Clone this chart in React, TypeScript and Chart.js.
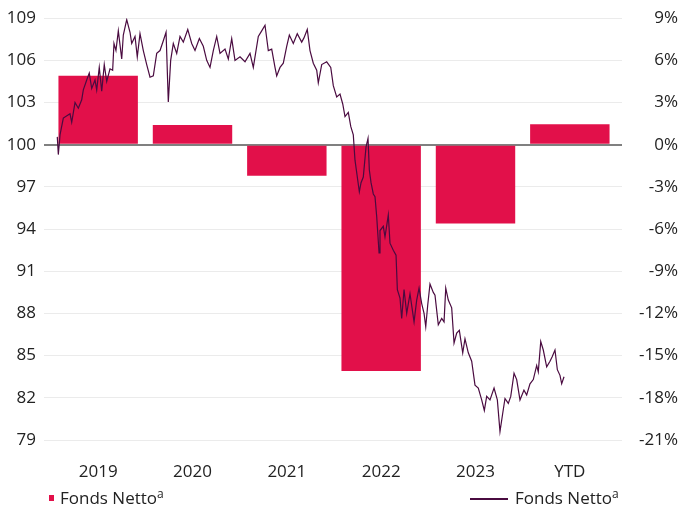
import React, { useEffect, useRef } from "react";
import { Chart, registerables } from "chart.js";

Chart.register(...registerables);

// ---- Data ----
const categories = ["2019", "2020", "2021", "2022", "2023", "YTD"];
// yearly net returns (%), right axis
const barValues = [4.9, 1.4, -2.2, -16.1, -5.6, 1.45];

// indexed fund value (left axis); time in years since start of 2019
const lineT = [
  0.003, 0.014, 0.032, 0.067, 0.138, 0.156, 0.191, 0.226, 0.262, 0.279, 0.315, 0.342, 0.368, 0.403, 0.421,
  0.448, 0.474, 0.501, 0.527, 0.562, 0.59, 0.604, 0.625, 0.65, 0.686, 0.703, 0.739, 0.774, 0.792, 0.827,
  0.851, 0.88, 0.915, 0.951, 0.986, 1.021, 1.057, 1.092, 1.127, 1.156, 1.18, 1.205, 1.233, 1.269, 1.304,
  1.339, 1.386, 1.428, 1.463, 1.509, 1.551, 1.587, 1.622, 1.657, 1.693, 1.728, 1.781, 1.816, 1.852, 1.887,
  1.94, 1.993, 2.046, 2.081, 2.134, 2.17, 2.205, 2.24, 2.276, 2.311, 2.329, 2.364, 2.399, 2.435, 2.463,
  2.505, 2.547, 2.594, 2.618, 2.653, 2.682, 2.717, 2.753, 2.77, 2.806, 2.859, 2.902, 2.929, 2.965, 3.0,
  3.029, 3.053, 3.088, 3.114, 3.141, 3.159, 3.205, 3.223, 3.247, 3.276, 3.297, 3.311, 3.329, 3.353, 3.371,
  3.389, 3.414, 3.424, 3.459, 3.477, 3.512, 3.53, 3.565, 3.594, 3.608, 3.636, 3.654, 3.679, 3.707, 3.742,
  3.785, 3.813, 3.838, 3.866, 3.891, 3.909, 3.93, 3.954, 3.989, 4.007, 4.042, 4.078, 4.103, 4.121, 4.148,
  4.184, 4.209, 4.237, 4.265, 4.301, 4.325, 4.36, 4.396, 4.431, 4.466, 4.502, 4.53, 4.555, 4.59, 4.633,
  4.668, 4.696, 4.725, 4.749, 4.784, 4.81, 4.845, 4.873, 4.908, 4.95, 4.979, 5.014, 5.049, 5.085, 5.102,
  5.128, 5.155, 5.191, 5.226, 5.248, 5.279, 5.304, 5.332, 5.35, 5.375,
];
const lineValues = [
  100.56, 99.3, 100.7, 101.9, 102.2, 101.6, 103.0, 102.6, 103.2, 103.9, 104.6, 105.1, 104.0, 104.6, 103.9,
  105.5, 103.8, 105.7, 104.5, 105.4, 105.3, 107.2, 106.7, 108.1, 106.1, 107.8, 108.9, 108.0, 107.2, 107.7,
  106.25, 107.9, 106.7, 105.7, 104.8, 104.9, 106.5, 106.7, 107.4, 108.0, 103.05, 106.0, 107.2, 106.5, 107.7,
  107.3, 108.2, 107.2, 106.7, 107.55, 107.0, 106.0, 105.5, 106.7, 107.7, 106.5, 106.8, 106.1, 107.55, 106.0,
  106.25, 105.9, 106.5, 105.5, 107.7, 108.1, 108.5, 106.7, 106.8, 105.5, 104.9, 105.5, 105.8, 107.0, 107.8,
  107.2, 107.9, 107.3, 107.6, 108.2, 106.7, 105.8, 105.3, 104.4, 105.7, 105.9, 105.5, 104.2, 103.4, 103.6,
  102.9, 102.0, 102.3, 101.3, 100.7, 98.9, 96.65, 97.3, 97.7, 99.85, 100.45, 98.2, 97.3, 96.5, 96.3,
  94.9, 92.3, 93.9, 94.2, 93.45, 95.0, 93.0, 92.5, 92.15, 89.7, 89.1, 87.65, 89.7, 88.0, 89.4,
  87.4, 88.95, 89.8, 88.7, 88.0, 87.05, 88.6, 90.1, 89.5, 89.3, 87.2, 87.65, 87.4, 89.8, 88.95,
  88.4, 85.9, 86.6, 86.8, 85.2, 86.2, 85.2, 84.6, 82.9, 82.7, 81.85, 81.1, 82.1, 81.85, 82.7,
  81.85, 79.6, 80.9, 81.95, 81.6, 82.1, 83.75, 83.3, 81.85, 82.55, 82.2, 83.0, 83.3, 84.3, 83.85,
  86.0, 85.4, 84.2, 84.6, 84.9, 85.4, 84.0, 83.6, 83.0, 83.5,
];

const leftMin = 79;
const leftMax = 109;
const rightMin = -21;
const rightMax = 9;
const tickStep = 3;
const lineTMin = -0.0636;
const lineTMax = 5.9364;

const legendLabel = "Fonds Netto";
const legendSup = "a";

const BAR_COLOR = "#E2104A";
const LINE_COLOR = "#4A0B40";
const GRID_COLOR = "#ebebeb";
const ZERO_COLOR = "#808080";
const TEXT_COLOR = "#222222";
const FONT = '"Open Sans", "Noto Sans", sans-serif';

export default function App() {
  const ref = useRef<HTMLCanvasElement>(null);

  useEffect(() => {
    if (!ref.current) return;
    const chart = new Chart(ref.current, {
      type: "bar",
      data: {
        labels: categories,
        datasets: [
          {
            type: "bar",
            label: "bar",
            data: barValues,
            xAxisID: "x",
            yAxisID: "y1",
            backgroundColor: BAR_COLOR,
            borderWidth: 0,
            grouped: false,
            categoryPercentage: 1,
            barPercentage: 0.842,
            order: 1,
          } as any,
          {
            type: "line",
            label: "line",
            data: lineT.map((t, i) => ({ x: t, y: lineValues[i] })),
            xAxisID: "x2",
            yAxisID: "y",
            borderColor: LINE_COLOR,
            borderWidth: 1.2,
            pointRadius: 0,
            tension: 0,
            order: 0,
          } as any,
        ],
      },
      options: {
        responsive: false,
        animation: false,
        layout: { padding: { top: 18, right: 3, left: 0, bottom: 0 } },
        plugins: { legend: { display: false }, tooltip: { enabled: false } },
        scales: {
          x: {
            type: "category",
            position: "bottom",
            offset: true,
            grid: { display: false },
            border: { display: false },
            ticks: { font: { family: FONT, size: 17 }, color: TEXT_COLOR, padding: 14, maxRotation: 0 },
            afterFit: (s: any) => {
              s.height = 72;
            },
          },
          x2: {
            type: "linear",
            axis: "x",
            position: "bottom",
            display: false,
            offset: false,
            grid: { offset: false },
            min: lineTMin,
            max: lineTMax,
          },
          y: {
            type: "linear",
            position: "left",
            min: leftMin,
            max: leftMax,
            ticks: { stepSize: tickStep, font: { family: FONT, size: 17 }, color: TEXT_COLOR, padding: 8 },
            grid: {
              color: (c: any) => (c.tick && c.tick.value === 100 ? ZERO_COLOR : GRID_COLOR),
              lineWidth: (c: any) => (c.tick && c.tick.value === 100 ? 2 : 1),
              tickLength: 7,
            },
            border: { display: false },
            afterFit: (s: any) => {
              s.width = 51;
            },
          },
          y1: {
            type: "linear",
            position: "right",
            min: rightMin,
            max: rightMax,
            ticks: {
              stepSize: tickStep,
              font: { family: FONT, size: 17 },
              color: TEXT_COLOR,
              crossAlign: "far",
              callback: (v: any) => `${v}%`,
            },
            grid: {
              drawOnChartArea: false,
              color: (c: any) => (c.tick && c.tick.value === 0 ? ZERO_COLOR : GRID_COLOR),
              lineWidth: (c: any) => (c.tick && c.tick.value === 0 ? 2 : 1),
              tickLength: 5,
            },
            border: { display: false },
            afterFit: (s: any) => {
              s.width = 61;
            },
          },
        },
      } as any,
    });
    return () => chart.destroy();
  }, []);

  const textStyle: React.CSSProperties = {
    position: "absolute",
    fontFamily: FONT,
    fontSize: 17,
    lineHeight: "20px",
    color: TEXT_COLOR,
    whiteSpace: "nowrap",
  };
  const supStyle: React.CSSProperties = { fontSize: 12, position: "relative", top: -6 };

  return (
    <div style={{ position: "absolute", left: 0, top: 0, width: 681, height: 512, background: "#fff" }}>
      <canvas ref={ref} width={681} height={512} style={{ display: "block" }} />
      <div style={{ position: "absolute", left: 49, top: 495, width: 5, height: 6, background: BAR_COLOR }} />
      <span style={{ ...textStyle, left: 60, top: 488 }}>
        {legendLabel}
        <span style={supStyle}>{legendSup}</span>
      </span>
      <div style={{ position: "absolute", left: 470, top: 498, width: 38, height: 1.5, background: LINE_COLOR }} />
      <span style={{ ...textStyle, left: 515, top: 488 }}>
        {legendLabel}
        <span style={supStyle}>{legendSup}</span>
      </span>
    </div>
  );
}
